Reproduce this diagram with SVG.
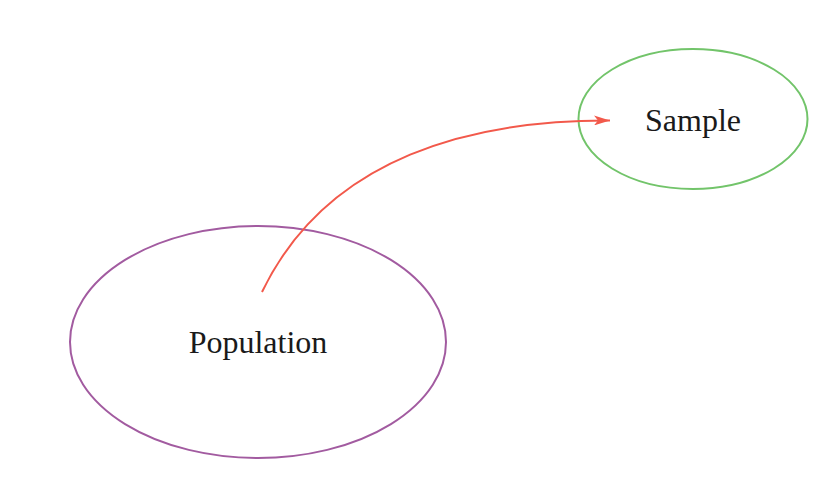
<svg xmlns="http://www.w3.org/2000/svg" width="830" height="485" viewBox="0 0 830 485">
<defs>
<style>
.lbl{font-family:"Liberation Serif","Times New Roman",serif;font-size:32px;fill:#1a1a1a;text-anchor:middle}
.node{fill:none;stroke-width:2}
.edge{fill:none;stroke:#f2594b;stroke-width:2}
</style>
<marker id="arr" viewBox="0 0 16 10" refX="16" refY="5" markerWidth="16" markerHeight="10" markerUnits="userSpaceOnUse" orient="auto">
<path d="M0,0 L16,5 L0,10 L4,5 Z" fill="#f2594b"/>
</marker>
</defs>
<rect width="830" height="485" fill="#ffffff"/>
<g id="population">
<ellipse class="node" cx="258" cy="342" rx="188" ry="116" stroke="#a25ba0"/>
<text class="lbl" x="258" y="353">Population</text>
</g>
<g id="sample">
<ellipse class="node" cx="693" cy="119" rx="114.5" ry="70" stroke="#72c46a"/>
<text class="lbl" x="693" y="131">Sample</text>
</g>
<g id="connectors">
<path class="edge" d="M262,292 C328,155 475,120 610,120.5" marker-end="url(#arr)"/>
</g>
</svg>
